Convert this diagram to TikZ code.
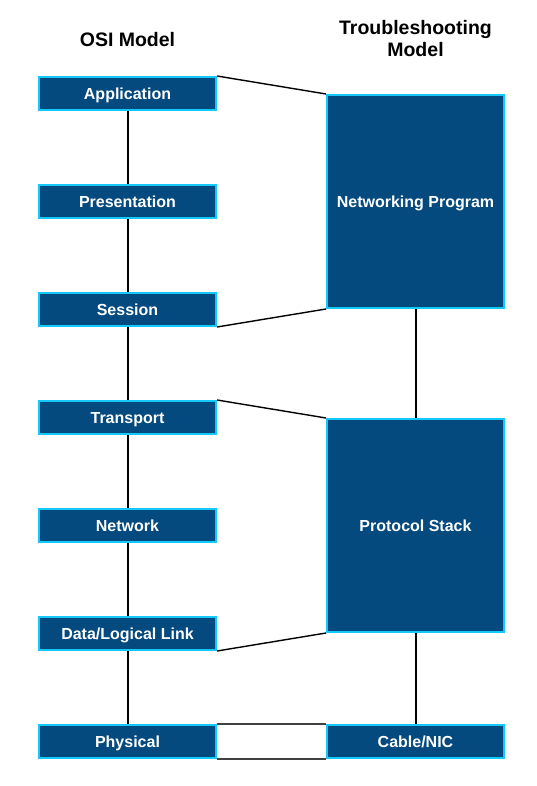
\documentclass[tikz,border=0pt]{standalone}
\usepackage{fontspec}
\setmainfont{Liberation Sans}
\usetikzlibrary{backgrounds}
\definecolor{boxfill}{RGB}{4,74,126}
\definecolor{boxline}{RGB}{20,200,250}
\definecolor{linkgray}{RGB}{64,64,64}
\begin{document}
\begin{tikzpicture}[x=1pt,y=-1pt,
  layerbox/.style={draw=boxline, line width=2pt, fill=boxfill, text=white,
    font=\fontsize{16}{19}\selectfont\bfseries, inner sep=0pt,
    text height=11.5pt, text depth=0pt,
    minimum width=177pt, minimum height=33pt},
  tallbox/.style={layerbox, minimum height=213pt},
  title/.style={font=\fontsize{19.5}{22.5}\selectfont\bfseries, align=center, inner sep=0pt},
  vlink/.style={black, line width=2pt},
  dlink/.style={black, line width=1.4pt},
  glink/.style={linkgray, line width=2pt}]
\useasboundingbox (0,0) rectangle (536,786);
\node[title, anchor=base] (osi) at (127.5,46.7) {OSI Model};
\node[title, anchor=base] (tsm) at (415.5,56.7) {Troubleshooting\\Model};
\node[layerbox] (app) at (127.5,93.5) {Application};
\node[layerbox] (pre) at (127.5,201.5) {Presentation};
\node[layerbox] (ses) at (127.5,309.5) {Session};
\node[layerbox] (tra) at (127.5,417.5) {Transport};
\node[layerbox] (net) at (127.5,525.5) {Network};
\node[layerbox] (dll) at (127.5,633.5) {Data/Logical Link};
\node[layerbox] (phy) at (127.5,741.5) {Physical};
\node[tallbox] (np) at (415.5,201.5) {Networking Program};
\node[tallbox] (ps) at (415.5,525.5) {Protocol Stack};
\node[layerbox] (cab) at (415.5,741.5) {Cable/NIC};
\begin{scope}[on background layer]
\draw[vlink] (app.south) -- (pre.north);
\draw[vlink] (pre.south) -- (ses.north);
\draw[vlink] (ses.south) -- (tra.north);
\draw[vlink] (tra.south) -- (net.north);
\draw[vlink] (net.south) -- (dll.north);
\draw[vlink] (dll.south) -- (phy.north);
\draw[vlink] (np.south) -- (ps.north);
\draw[vlink] (ps.south) -- (cab.north);
\draw[dlink] (app.north east) -- (np.north west);
\draw[dlink] (ses.south east) -- (np.south west);
\draw[dlink] (tra.north east) -- (ps.north west);
\draw[dlink] (dll.south east) -- (ps.south west);
\draw[glink] (phy.north east) -- (cab.north west);
\draw[glink] (phy.south east) -- (cab.south west);
\end{scope}
\end{tikzpicture}
\end{document}
